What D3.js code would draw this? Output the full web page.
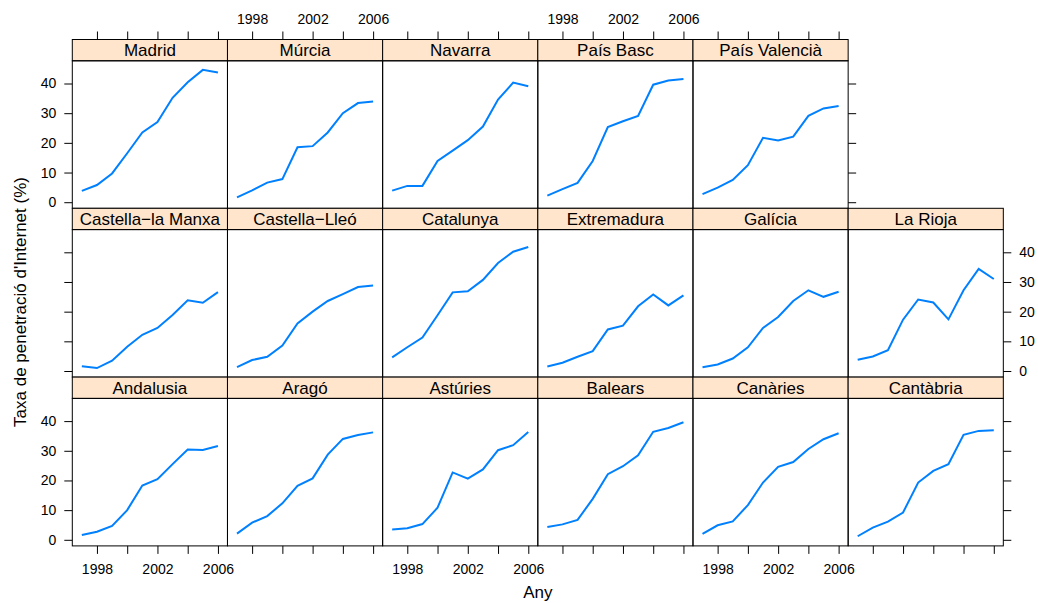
<!DOCTYPE html>
<html>
<head>
<meta charset="utf-8">
<script src="https://cdn.jsdelivr.net/npm/d3@7"></script>
<style>
  body { margin: 0; background: #fff; }
  svg { font-family: "Liberation Sans", Arial, sans-serif; }
  .tick text { font-size: 14px; fill: #000; }
  .tick line { stroke: #000; }
</style>
</head>
<body>
<svg id="chart" width="1038" height="603"></svg>
<script>
var years = [1997, 1998, 1999, 2000, 2001, 2002, 2003, 2004, 2005, 2006]

// one array per region, % of internet users
var madrid       = [3.8, 5.8, 9.7, 16.5, 23.5, 27.0, 35.2, 40.4, 44.6, 43.7]
var murcia       = [1.6, 4.0, 6.6, 7.8, 18.5, 18.9, 23.5, 30.0, 33.4, 33.9]
var navarra      = [3.9, 5.5, 5.5, 13.9, 17.4, 20.9, 25.5, 34.6, 40.3, 39.1]
var paisBasc     = [2.2, 4.4, 6.5, 13.9, 25.3, 27.3, 29.1, 39.6, 41.0, 41.5]
var paisValencia = [2.7, 4.9, 7.5, 12.5, 21.7, 20.8, 22.1, 29.1, 31.6, 32.4]
var castManxa    = [1.6, 1.0, 3.5, 8.2, 12.2, 14.5, 18.9, 23.8, 23.0, 26.6]
var castLleo     = [1.3, 3.7, 4.8, 8.6, 16.0, 20.0, 23.6, 25.9, 28.3, 28.8]
var catalunya    = [4.6, 8.0, 11.3, 18.8, 26.5, 26.9, 30.7, 36.4, 40.2, 41.8]
var extremadura  = [1.5, 2.8, 4.8, 6.7, 14.0, 15.3, 21.8, 25.8, 22.1, 25.5]
var galicia      = [1.3, 2.2, 4.2, 8.0, 14.5, 18.2, 23.6, 27.2, 25.0, 26.7]
var laRioja      = [3.8, 4.9, 7.0, 17.3, 24.1, 23.1, 17.4, 27.2, 34.4, 31.0]
var andalusia    = [1.6, 2.7, 4.7, 10.0, 18.3, 20.4, 25.5, 30.4, 30.3, 31.6]
var arago        = [2.1, 5.8, 8.0, 12.3, 18.2, 20.7, 28.7, 34.0, 35.3, 36.2]
var asturies     = [3.5, 3.9, 5.3, 10.8, 22.7, 20.6, 23.7, 30.2, 31.9, 36.3]
var balears      = [4.3, 5.2, 6.7, 13.8, 22.1, 24.8, 28.5, 36.4, 37.7, 39.6]
var canaries     = [2.0, 4.9, 6.2, 11.7, 19.3, 24.6, 26.2, 30.6, 33.9, 35.9]
var cantabria    = [1.2, 4.1, 6.1, 9.2, 19.3, 23.2, 25.5, 35.4, 36.7, 36.9]

// panel rows, top to bottom as drawn
var rows = [
  [["Madrid", madrid], ["Múrcia", murcia], ["Navarra", navarra], ["País Basc", paisBasc], ["País Valencià", paisValencia]],
  [["Castella\u2212la Manxa", castManxa], ["Castella\u2212Lleó", castLleo], ["Catalunya", catalunya], ["Extremadura", extremadura], ["Galícia", galicia], ["La Rioja", laRioja]],
  [["Andalusia", andalusia], ["Aragó", arago], ["Astúries", asturies], ["Balears", balears], ["Canàries", canaries], ["Cantàbria", cantabria]]
]

var xTicks = [1998, 2000, 2002, 2004, 2006]
var xLabels = [1998, 2002, 2006]
var yTicks = [0, 10, 20, 30, 40]

// note: "top" is taken by window.top
var plotLeft = 72.3, colW = 155.17, plotTop = 39.5
var stripH = 21.3, panelH = 147.5, rowH = 168.8
var tickLen = 8

var svg = d3.select("#chart")

// padded extents like lattice (7%)
var all = rows.flat().map(function(d) { return d[1] }).flat()
var yMin = d3.min(all), yMax = d3.max(all)
var yPad = (yMax - yMin) * 0.07
var xPad = (d3.max(years) - d3.min(years)) * 0.07

var x = d3.scaleLinear()
  .domain([d3.min(years) - xPad, d3.max(years) + xPad])
  .range([0, colW])
var y = d3.scaleLinear()
  .domain([yMin - yPad, yMax + yPad])
  .range([panelH, 0])

var line = d3.line()
  .x(function(d, i) { return x(years[i]) })
  .y(function(d) { return y(d) })

rows.forEach(function(row, r) {
  row.forEach(function(p, c) {
    var g = svg.append("g")
      .attr("transform", "translate(" + (plotLeft + c * colW) + "," + (plotTop + r * rowH) + ")")

    g.append("rect")
      .attr("width", colW).attr("height", stripH)
      .attr("fill", "#ffe5cc").attr("stroke", "#000")
    g.append("text")
      .attr("x", colW / 2).attr("y", stripH / 2 + 6)
      .attr("text-anchor", "middle")
      .attr("font-size", 17)
      .text(p[0])

    var pg = g.append("g").attr("transform", "translate(0," + stripH + ")")
    pg.append("rect")
      .attr("width", colW).attr("height", panelH)
      .attr("fill", "none").attr("stroke", "#000")
    pg.append("path")
      .datum(p[1])
      .attr("d", line)
      .attr("fill", "none")
      .attr("stroke", "#0080ff")
      .attr("stroke-width", 2)
  })
})

function noDomain(sel) { sel.select(".domain").remove() }

function fmt(show) {
  return function(d) { return show ? d : "" }
}

// left axes
rows.forEach(function(row, r) {
  svg.append("g")
    .attr("transform", "translate(" + plotLeft + "," + (plotTop + r * rowH + stripH) + ")")
    .call(d3.axisLeft(y).tickValues(yTicks).tickSize(tickLen).tickPadding(8).tickFormat(fmt(r != 1)))
    .call(noDomain)
})

// right axes
rows.forEach(function(row, r) {
  svg.append("g")
    .attr("transform", "translate(" + (plotLeft + row.length * colW) + "," + (plotTop + r * rowH + stripH) + ")")
    .call(d3.axisRight(y).tickValues(yTicks).tickSize(tickLen).tickPadding(8).tickFormat(fmt(r == 1)))
    .call(noDomain)
})

// bottom axes
d3.range(6).forEach(function(c) {
  svg.append("g")
    .attr("transform", "translate(" + (plotLeft + c * colW) + "," + (plotTop + 3 * rowH) + ")")
    .call(d3.axisBottom(x).tickValues(xTicks).tickSize(tickLen).tickPadding(10)
      .tickFormat(function(d) { return (c % 2 == 0 && xLabels.indexOf(d) >= 0) ? d : "" }))
    .call(noDomain)
})

// top axes, only over the top row
d3.range(rows[0].length).forEach(function(c) {
  svg.append("g")
    .attr("transform", "translate(" + (plotLeft + c * colW) + "," + plotTop + ")")
    .call(d3.axisTop(x).tickValues(xTicks).tickSize(tickLen).tickPadding(8)
      .tickFormat(function(d) { return (c % 2 == 1 && xLabels.indexOf(d) >= 0) ? d : "" }))
    .call(noDomain)
})

svg.append("text")
  .attr("x", plotLeft + 3 * colW).attr("y", 598)
  .attr("text-anchor", "middle").attr("font-size", 17)
  .text("Any")

svg.append("text")
  .attr("transform", "translate(26,302) rotate(-90)")
  .attr("text-anchor", "middle").attr("font-size", 17)
  .text("Taxa de penetració d'Internet (%)")
</script>
</body>
</html>
